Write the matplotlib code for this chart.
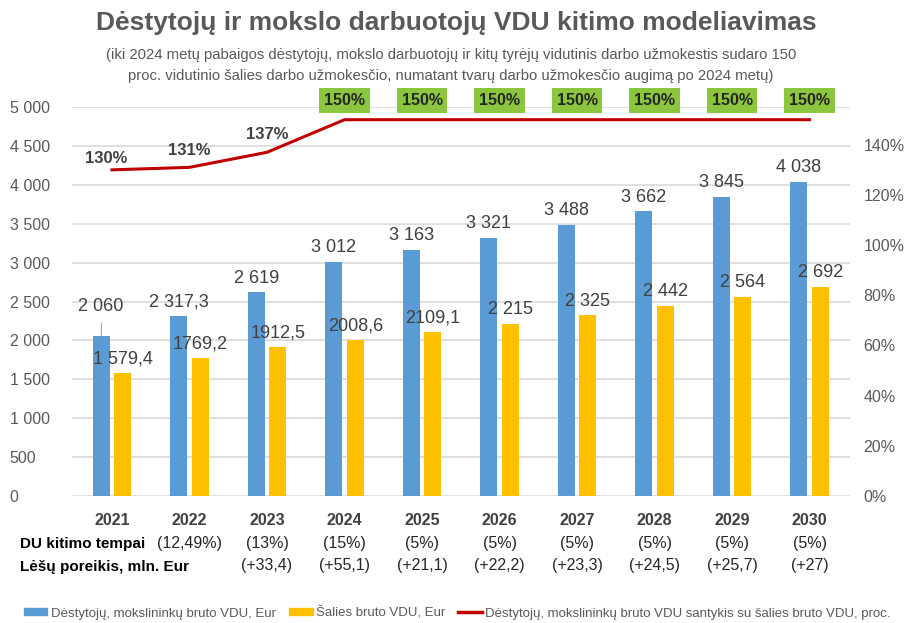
import matplotlib
matplotlib.use("Agg")
import matplotlib.pyplot as plt
import matplotlib.transforms as mtrans
from matplotlib.patches import Patch
from matplotlib.lines import Line2D
import numpy as np

plt.rcParams['font.family'] = ['Liberation Sans', 'DejaVu Sans']

years = ["2021", "2022", "2023", "2024", "2025", "2026", "2027", "2028", "2029", "2030"]
lecturers_vdu = [2060, 2317.3, 2619, 3012, 3163, 3321, 3488, 3662, 3845, 4038]
lecturers_labels = ["2 060", "2 317,3", "2 619", "3 012", "3 163", "3 321", "3 488", "3 662", "3 845", "4 038"]
country_vdu = [1579.4, 1769.2, 1912.5, 2008.6, 2109.1, 2215, 2325, 2442, 2564, 2692]
country_labels = ["1 579,4", "1769,2", "1912,5", "2008,6", "2109,1", "2 215", "2 325", "2 442", "2 564", "2 692"]
ratio_pct = [130, 131, 137, 150, 150, 150, 150, 150, 150, 150]
ratio_labels = ["130%", "131%", "137%", "150%", "150%", "150%", "150%", "150%", "150%", "150%"]
growth_rates = ["", "(12,49%)", "(13%)", "(15%)", "(5%)", "(5%)", "(5%)", "(5%)", "(5%)", "(5%)"]
funds_needed = ["", "", "(+33,4)", "(+55,1)", "(+21,1)", "(+22,2)", "(+23,3)", "(+24,5)", "(+25,7)", "(+27)"]
left_ticks = [0, 500, 1000, 1500, 2000, 2500, 3000, 3500, 4000, 4500, 5000]
right_ticks = [0, 20, 40, 60, 80, 100, 120, 140]

BLUE = "#5B9BD5"
YELLOW = "#FFC000"
RED = "#C00000"
GREEN = "#8CC63F"
GRAY = "#595959"
GRID = "#D9D9D9"

fig = plt.figure(figsize=(9.07, 6.23), dpi=100)
ax = fig.add_axes([0.079, 0.204, 0.858, 0.624])
ax2 = ax.twinx()

x = np.arange(len(years))
w = 0.22
off = 0.14
ax.bar(x - off, lecturers_vdu, width=w, color=BLUE, zorder=3)
ax.bar(x + off, country_vdu, width=w, color=YELLOW, zorder=3)

ax.set_xlim(-0.52, 9.52)
ax.set_ylim(0, 5000)
ax.set_yticks(left_ticks)
ax.set_yticklabels([f"{v:,}".replace(",", " ") for v in left_ticks], color=GRAY, fontsize=11.5)
ax.yaxis.grid(True, color=GRID, linewidth=1.2, zorder=0)
ax.set_axisbelow(True)
ax.tick_params(axis='y', length=0, pad=44.5)
for lbl in ax.get_yticklabels():
    lbl.set_horizontalalignment('left')
ax.set_xticks([])
for s in ax.spines.values():
    s.set_visible(False)

# bar labels
for i in range(len(years)):
    extra = 11 if i == 0 else 0
    ax.annotate(lecturers_labels[i], (x[i] - off, lecturers_vdu[i]), xytext=(0, 4 + extra),
                textcoords='offset points', ha='center', va='bottom', fontsize=13, color="#404040", zorder=5)
    if i == 0:
        ax.plot([x[i] - off, x[i] - off], [lecturers_vdu[i], lecturers_vdu[i] + 160], color="#A6A6A6", lw=0.8, zorder=4)
    ax.annotate(country_labels[i], (x[i] + off, country_vdu[i]), xytext=(0, 4),
                textcoords='offset points', ha='center', va='bottom', fontsize=13, color="#404040", zorder=5)

# ratio line
ax2.plot(x, ratio_pct, color=RED, lw=2.2, zorder=4)
ax2.set_ylim(0, 155)
ax2.set_yticks(right_ticks)
ax2.set_yticklabels([f"{v}%" for v in right_ticks], color=GRAY, fontsize=11.5)
ax2.tick_params(axis='y', length=0, pad=10)
for s in ax2.spines.values():
    s.set_visible(False)

for i in range(len(years)):
    if ratio_pct[i] >= 150:
        ax2.annotate(ratio_labels[i], (x[i], ratio_pct[i]), xytext=(0, 14), textcoords='offset points',
                     ha='center', va='center', fontsize=11.5, fontweight='bold', color="#262626",
                     bbox=dict(boxstyle='square,pad=0.3', fc=GREEN, ec='none'))
    else:
        dy = [8, 12, 13][i]
        dx = [-4, 0, 0][i]
        ax2.annotate(ratio_labels[i], (x[i], ratio_pct[i]), xytext=(dx, dy), textcoords='offset points',
                     ha='center', va='center', fontsize=12, fontweight='bold', color="#404040")

# category rows
trans = mtrans.blended_transform_factory(ax.transData, ax.transAxes)
for i in range(len(years)):
    ax.text(x[i], -0.062, years[i], transform=trans, ha='center', va='center',
            fontsize=11.5, fontweight='bold', color="#404040")
    ax.text(x[i], -0.123, growth_rates[i], transform=trans, ha='center', va='center',
            fontsize=11.5, color="#262626")
    ax.text(x[i], -0.18, funds_needed[i], transform=trans, ha='center', va='center',
            fontsize=11.5, color="#262626")

fig.text(20 / 907, 1 - 544 / 623, "DU kitimo tempai", ha='left', va='center', fontsize=11,
         fontweight='bold', color="#000000")
fig.text(20 / 907, 1 - 567 / 623, "Lėšų poreikis, mln. Eur", ha='left', va='center', fontsize=11,
         fontweight='bold', color="#000000")

# titles
fig.text(0.503, 1 - 23 / 623, "Dėstytojų ir mokslo darbuotojų VDU kitimo modeliavimas", ha='center', va='center',
         fontsize=19, fontweight='bold', color=GRAY)
fig.text(0.497, 1 - 55 / 623, "(iki 2024 metų pabaigos dėstytojų, mokslo darbuotojų ir kitų tyrėjų vidutinis darbo užmokestis sudaro 150",
         ha='center', va='center', fontsize=10.7, color=GRAY)
fig.text(0.497, 1 - 76 / 623, "proc. vidutinio šalies darbo užmokesčio, numatant tvarų darbo užmokesčio augimą po 2024 metų)",
         ha='center', va='center', fontsize=10.7, color=GRAY)

handles = [Patch(color=BLUE), Patch(color=YELLOW), Line2D([0], [0], color=RED, lw=2.5)]
labels = ["Dėstytojų, mokslininkų bruto VDU, Eur", "Šalies bruto VDU, Eur",
          "Dėstytojų, mokslininkų bruto VDU santykis su šalies bruto VDU, proc."]
fig.legend(handles, labels, loc='center', bbox_to_anchor=(0.504, 1 - 613 / 623), ncol=3, frameon=False,
           fontsize=9.5, labelcolor=GRAY, handlelength=1.8, handleheight=0.45, columnspacing=1.0,
           handletextpad=0.25)

fig.savefig("out.png", dpi=100)
